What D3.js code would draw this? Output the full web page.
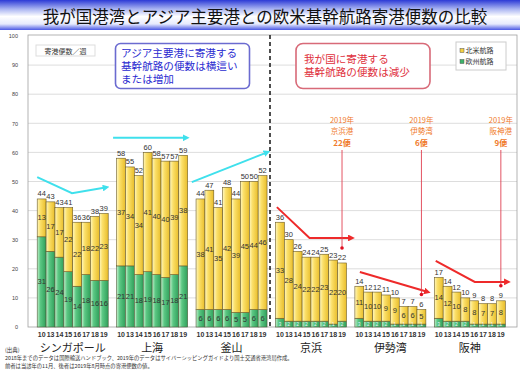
<!DOCTYPE html>
<html><head><meta charset="utf-8">
<script src="https://cdn.jsdelivr.net/npm/d3@7"></script>
<style>body{margin:0;background:#fff}svg{display:block}</style>
</head><body>
<svg id="c" width="520" height="373"></svg>
<script>
// ---------- DATA ----------
const ports = ["シンガポール", "上海", "釜山", "京浜", "伊勢湾", "阪神"];
const years = ["10", "13", "14", "15", "16", "17", "18", "19"];
const europeRoutes = [
  [31, 26, 24, 19, 14, 18, 16, 16],
  [21, 21, 18, 19, 18, 17, 18, 21],
  [6, 6, 6, 6, 5, 5, 6, 6],
  [3, 2, 2, 2, 2, 2, 1, 2],
  [3, 2, 2, 2, 1, 1, 1, 1],
  [3, 2, 2, 2, 1, 1, 1, 1]
];
const northAmericaRoutes = [
  [13, 17, 17, 22, 22, 18, 22, 23],
  [37, 34, 34, 41, 40, 40, 39, 38],
  [38, 41, 35, 42, 39, 45, 44, 46],
  [33, 28, 24, 22, 22, 23, 22, 20],
  [11, 10, 10, 9, 9, 6, 6, 5],
  [14, 12, 10, 8, 8, 7, 7, 8]
];
const totalLabels = [
  [44, 43, 43, 41, 36, 36, 38, 39],
  [58, 55, 52, 60, 58, 57, 57, 59],
  [44, 47, 41, 48, 44, 50, 50, 52],
  [36, 30, 26, 24, 24, 25, 23, 22],
  [14, 12, 12, 11, 10, 7, 7, 6],
  [17, 14, 12, 10, 9, 8, 8, 9]
];
const yTicks = [0, 10, 20, 30, 40, 50, 60, 70, 80, 90, 100];
const seriesNames = ["北米航路", "欧州航路"];
// trend arrows: [fraction of group width, value]
const asiaTrends = [
  [[0.0, 51.5], [0.49, 46], [0.98, 48]],
  [[-0.05, 65], [0.99, 65]],
  [[-0.06, 49.8], [1.01, 60.1]]
];
const japanTrends = [
  [[0.02, 41.2], [0.48, 30.6], [1.08, 30.6]],
  [[0.07, 18.9], [1.03, 12]],
  [[0.02, 22.7], [0.57, 15.5], [1.04, 15.5]]
];
const annoPorts = ["京浜", "伊勢湾", "阪神"];
const annoNames = ["京浜港", "伊勢湾", "阪神港"];
const annoCounts = ["22便", "6便", "9便"];

// ---------- DRAW ----------
const JP = "'Noto Sans CJK JP', 'Noto Sans', sans-serif";
const NUM = "'Liberation Sans Narrow', 'Liberation Sans', Arial, sans-serif";
const svg = d3.select("#c");
const defs = svg.append("defs");

function grad(id, stops, vertical) {
  const g = defs.append("linearGradient").attr("id", id)
    .attr("x1", 0).attr("y1", 0).attr("x2", vertical ? 0 : 1).attr("y2", vertical ? 1 : 0);
  stops.forEach(s => g.append("stop").attr("offset", s[0]).attr("stop-color", s[1]));
}
grad("titleG", [[0, "#2c3ad6"], [0.3, "#a9b4f2"], [0.55, "#ffffff"], [0.8, "#e6eafd"], [1, "#4a58e4"]], true);
grad("yel", [[0, "#fff7c0"], [0.35, "#fbe06a"], [1, "#e9bd2a"]], false);
grad("grn", [[0, "#c4f0cc"], [0.35, "#5cc884"], [1, "#2f9f5a"]], false);

// title band
svg.append("rect").attr("x", 0).attr("y", 0).attr("width", 520).attr("height", 30).attr("fill", "url(#titleG)");
svg.append("text").attr("x", 265).attr("y", 22.5).attr("text-anchor", "middle")
  .attr("font-family", JP).attr("font-size", 16.5).attr("fill", "#111")
  .text("我が国港湾とアジア主要港との欧米基幹航路寄港便数の比較");

const x0 = d3.scaleBand().domain(ports).range([33, 509.5]).paddingInner(0.106).paddingOuter(0.053);
const x1 = d3.scaleBand().domain(years).range([0, x0.bandwidth()]);
const y = d3.scaleLinear().domain([0, 100]).range([327, 36]);
const plotL = 28, plotR = 517;

// grid + frame
svg.append("g").selectAll("line").data(yTicks.filter(d => d > 0 && d < 100)).join("line")
  .attr("x1", plotL).attr("x2", plotR).attr("y1", d => y(d)).attr("y2", d => y(d))
  .attr("stroke", "#d4d4d4").attr("stroke-width", 0.8);
svg.append("rect").attr("x", plotL).attr("y", y(100) - 1).attr("width", plotR - plotL).attr("height", y(0) - y(100) + 1)
  .attr("fill", "none").attr("stroke", "#a0a0a0").attr("stroke-width", 0.8);

// y axis
const ya = svg.append("g").attr("transform", `translate(${plotL},0)`)
  .call(d3.axisLeft(y).tickValues(yTicks).tickSize(0).tickPadding(10));
ya.select(".domain").remove();
ya.selectAll("text").attr("font-size", 5.5).attr("font-family", NUM).attr("fill", "#444");

// bars
ports.forEach((p, i) => {
  const g = svg.append("g").attr("transform", `translate(${x0(p)},0)`);
  const rows = years.map((yr, j) => ({ yr, eu: europeRoutes[i][j], na: northAmericaRoutes[i][j], tot: totalLabels[i][j] }));
  g.selectAll("rect.eu").data(rows).join("rect").attr("class", "eu")
    .attr("x", d => x1(d.yr)).attr("width", x1.bandwidth())
    .attr("y", d => y(d.eu)).attr("height", d => y(0) - y(d.eu))
    .attr("fill", "url(#grn)").attr("stroke", "#4d5a3a").attr("stroke-width", 0.6);
  g.selectAll("rect.na").data(rows).join("rect").attr("class", "na")
    .attr("x", d => x1(d.yr)).attr("width", x1.bandwidth())
    .attr("y", d => y(d.eu + d.na)).attr("height", d => y(d.eu) - y(d.eu + d.na))
    .attr("fill", "url(#yel)").attr("stroke", "#6b5a24").attr("stroke-width", 0.6);
  const lab = (sel) => sel.attr("font-family", NUM).attr("text-anchor", "middle").attr("fill", "#333");
  g.selectAll("text.eu").data(rows).join("text").attr("class", "eu").call(lab)
    .attr("x", d => x1(d.yr) + x1.bandwidth() / 2)
    .attr("y", d => d.eu >= 4 ? y(d.eu / 2) + 2.5 : y(0) - 0.6)
    .attr("font-size", d => d.eu >= 4 ? 7.5 : 4.5)
    .attr("fill", d => d.eu >= 4 ? "#333" : "#eef")
    .text(d => d.eu);
  g.selectAll("text.na").data(rows).join("text").attr("class", "na").call(lab)
    .attr("x", d => x1(d.yr) + x1.bandwidth() / 2)
    .attr("y", d => y(d.eu + d.na / 2) + 2.5).attr("font-size", 7.5)
    .text(d => d.na);
  g.selectAll("text.tot").data(rows).join("text").attr("class", "tot").call(lab)
    .attr("x", d => x1(d.yr) + x1.bandwidth() / 2)
    .attr("y", d => y(d.eu + d.na) - 2.5).attr("font-size", 7.5)
    .text(d => d.tot);
  // x axis years
  const xa = svg.append("g").attr("transform", `translate(${x0(p)},${y(0)})`)
    .call(d3.axisBottom(x1).tickSize(0).tickPadding(5));
  xa.select(".domain").remove();
  xa.selectAll("text").attr("font-size", 7).attr("font-weight", "bold").attr("font-family", NUM).attr("fill", "#333");
  // port name
  svg.append("text").attr("x", x0(p) + x0.bandwidth() / 2).attr("y", 352).attr("text-anchor", "middle")
    .attr("font-family", JP).attr("font-size", 11).attr("fill", "#222").text(p);
});

// trend arrows
const tx = (p, f) => x0(p) + f * x0.bandwidth();
function arrow(p, pts, color, id) {
  const m = defs.append("marker").attr("id", id).attr("viewBox", "0 0 10 10").attr("refX", 6).attr("refY", 5)
    .attr("markerWidth", 3.4).attr("markerHeight", 3.4).attr("orient", "auto");
  m.append("path").attr("d", "M0,0L10,5L0,10z").attr("fill", color);
  svg.append("path").attr("d", d3.line()(pts.map(q => [tx(p, q[0]), y(q[1])])))
    .attr("fill", "none").attr("stroke", color).attr("stroke-width", 2).attr("marker-end", `url(#${id})`);
}
asiaTrends.forEach((t, k) => arrow(ports[k], t, "#3fe0ec", "ma" + k));
japanTrends.forEach((t, k) => arrow(ports[k + 3], t, "#ee2a2a", "mj" + k));

// dashed divider
svg.append("line").attr("x1", 270).attr("x2", 270).attr("y1", y(100) - 1).attr("y2", y(0))
  .attr("stroke", "#222").attr("stroke-width", 1.6).attr("stroke-dasharray", "4,3");

// unit box
svg.append("rect").attr("x", 36).attr("y", 45).attr("width", 59).attr("height", 11).attr("fill", "#fff").attr("stroke", "#ddd");
svg.append("text").attr("x", 65.5).attr("y", 53.5).attr("text-anchor", "middle").attr("font-family", JP)
  .attr("font-size", 7).attr("fill", "#333").text("寄港便数／週");

// blue callout
svg.append("rect").attr("x", 115.5).attr("y", 43.5).attr("width", 134).attr("height", 45).attr("rx", 5)
  .attr("fill", "#fff").attr("stroke", "#6b6bd0").attr("stroke-width", 1.6);
["アジア主要港に寄港する", "基幹航路の便数は横這い", "または増加"].forEach((s, k) =>
  svg.append("text").attr("x", 121).attr("y", 57 + k * 13).attr("font-family", JP).attr("font-size", 10.6)
    .attr("fill", "#2a2ad0").text(s));

// red callout
svg.append("rect").attr("x", 296).attr("y", 43.5).attr("width", 134).attr("height", 45).attr("rx", 7)
  .attr("fill", "#fff").attr("stroke", "#d86a78").attr("stroke-width", 1.6);
["我が国に寄港する", "基幹航路の便数は減少"].forEach((s, k) =>
  svg.append("text").attr("x", 304).attr("y", 63 + k * 13).attr("font-family", JP).attr("font-size", 10.6)
    .attr("fill", "#e0303c").text(s));

// legend
svg.append("rect").attr("x", 456).attr("y", 42).attr("width", 50).attr("height", 28).attr("fill", "#fff").attr("stroke", "#ccc");
[["#f5d040"], ["#3cb46a"]].forEach((c, k) => {
  svg.append("rect").attr("x", 460).attr("y", 48.5 + k * 11).attr("width", 4).attr("height", 4)
    .attr("fill", c[0]).attr("stroke", "#555").attr("stroke-width", 0.5);
  svg.append("text").attr("x", 465.5).attr("y", 53 + k * 11).attr("font-family", JP).attr("font-size", 7)
    .attr("fill", "#333").text(seriesNames[k]);
});

// 2019 annotations
annoPorts.forEach((p, k) => {
  const i = ports.indexOf(p);
  const last = years.length - 1;
  const cx = x0(p) + x1(years[last]) + x1.bandwidth() / 2;
  const top = y(europeRoutes[i][last] + northAmericaRoutes[i][last]) - 15;
  const g = svg.append("g").attr("font-family", JP).attr("text-anchor", "middle").attr("fill", "#f07a2a");
  g.append("text").attr("x", cx).attr("y", 123).attr("font-size", 7.5).text("2019年");
  g.append("text").attr("x", cx).attr("y", 134).attr("font-size", 7.5).text(annoNames[k]);
  g.append("text").attr("x", cx).attr("y", 146).attr("font-size", 8).attr("font-weight", "bold").text(annoCounts[k]);
  svg.append("line").attr("x1", cx).attr("x2", cx).attr("y1", 150).attr("y2", top)
    .attr("stroke", "#e04050").attr("stroke-width", 0.9);
  svg.append("circle").attr("cx", cx).attr("cy", top).attr("r", 1.8).attr("fill", "#e01020");
});

// footnotes
svg.append("text").attr("x", 5).attr("y", 352).attr("font-family", JP).attr("font-size", 5.5).attr("fill", "#333").text("(出典)");
svg.append("text").attr("x", 5).attr("y", 360).attr("font-family", JP).attr("font-size", 5.3).attr("fill", "#333")
  .text("2018年までのデータは国際輸送ハンドブック、2019年のデータはサイバーシッピングガイドより国土交通省港湾局作成。");
svg.append("text").attr("x", 5).attr("y", 368).attr("font-family", JP).attr("font-size", 5.3).attr("fill", "#333")
  .text("前者は当該年の11月、後者は2019年8月時点の寄港便数の値。");
</script>
</body></html>
